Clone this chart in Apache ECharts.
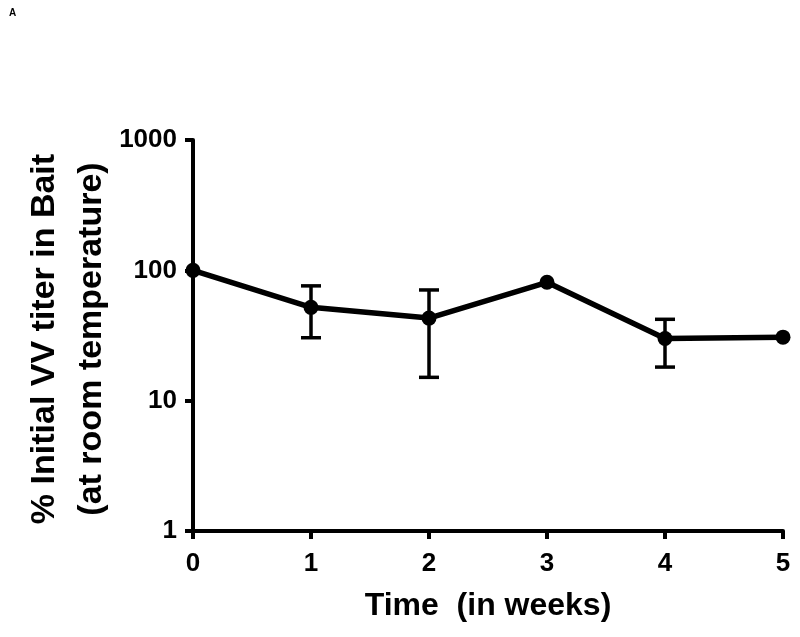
<!DOCTYPE html>
<html>
<head>
<meta charset="utf-8">
<script src="https://cdn.jsdelivr.net/npm/echarts@6/dist/echarts.min.js"></script>
<style>html,body{margin:0;padding:0;background:#fff;}#c{width:800px;height:637px;}</style>
</head>
<body>
<div id="c"></div>
<script>
const weeks = [0, 1, 2, 3, 4, 5];
const meanTiter = [100, 52, 43, 81, 30, 30.7];
const errLow = [null, 30.4, 15.1, null, 18.1, null];
const errHigh = [null, 76, 70.7, null, 42.1, null];
const yTicks = [1, 10, 100, 1000];
const yTitle = '% Initial VV titer in Bait\n(at room temperature)';
const xTitle = 'Time  (in weeks)';

const chart = echarts.init(document.getElementById('c'));
const font = 'Liberation Sans, Arial, sans-serif';
const lineData = weeks.map((w, i) => [w, meanTiter[i]]);
const errData = weeks.map((w, i) => [w, errLow[i], errHigh[i]]).filter(d => d[1] !== null);

chart.setOption({
  animation: false,
  graphic: [
    {type: 'text', left: 9, top: 8, style: {text: 'A', font: 'bold 10px ' + font, fill: '#000'}},
    {type: 'text', x: 68, y: 339, rotation: Math.PI / 2,
      style: {text: yTitle, fontFamily: font, fontWeight: 'bold', fontSize: 34, lineHeight: 47,
        fill: '#000', align: 'center', verticalAlign: 'middle'}}
  ],
  grid: {left: 193, right: 17, top: 140, bottom: 106, containLabel: false},
  xAxis: {
    type: 'value', min: 0, max: 5, interval: 1,
    name: xTitle, nameLocation: 'middle', nameGap: 59,
    nameTextStyle: {fontFamily: font, fontWeight: 'bold', fontSize: 32, color: '#000'},
    axisLine: {show: true, lineStyle: {color: '#000', width: 4}},
    axisTick: {show: true, length: 8, lineStyle: {color: '#000', width: 4}},
    axisLabel: {fontFamily: font, fontWeight: 'bold', fontSize: 26, color: '#000', margin: 20},
    splitLine: {show: false}
  },
  yAxis: {
    type: 'log', logBase: 10, min: 1, max: 1000,
    axisLine: {show: true, lineStyle: {color: '#000', width: 4}},
    axisTick: {show: true, length: 8, lineStyle: {color: '#000', width: 4}},
    minorTick: {show: false},
    axisLabel: {fontFamily: font, fontWeight: 'bold', fontSize: 26, color: '#000', margin: 16,
      formatter: v => yTicks.includes(Math.round(v)) ? String(Math.round(v)) : ''},
    splitLine: {show: false}
  },
  series: [
    {
      type: 'custom',
      data: errData,
      z: 3,
      renderItem: function (params, api) {
        const x = api.value(0);
        const lo = api.coord([x, api.value(1)]);
        const hi = api.coord([x, api.value(2)]);
        const hw = 10;
        const st = {stroke: '#000', lineWidth: 3.5};
        return {type: 'group', children: [
          {type: 'line', shape: {x1: lo[0], y1: lo[1], x2: hi[0], y2: hi[1]}, style: st},
          {type: 'line', shape: {x1: lo[0] - hw, y1: lo[1], x2: lo[0] + hw, y2: lo[1]}, style: st},
          {type: 'line', shape: {x1: hi[0] - hw, y1: hi[1], x2: hi[0] + hw, y2: hi[1]}, style: st}
        ]};
      }
    },
    {
      type: 'line',
      data: lineData,
      z: 4,
      symbol: 'circle', symbolSize: 15,
      lineStyle: {color: '#000', width: 5.5},
      itemStyle: {color: '#000'}
    }
  ]
});
</script>
</body>
</html>
